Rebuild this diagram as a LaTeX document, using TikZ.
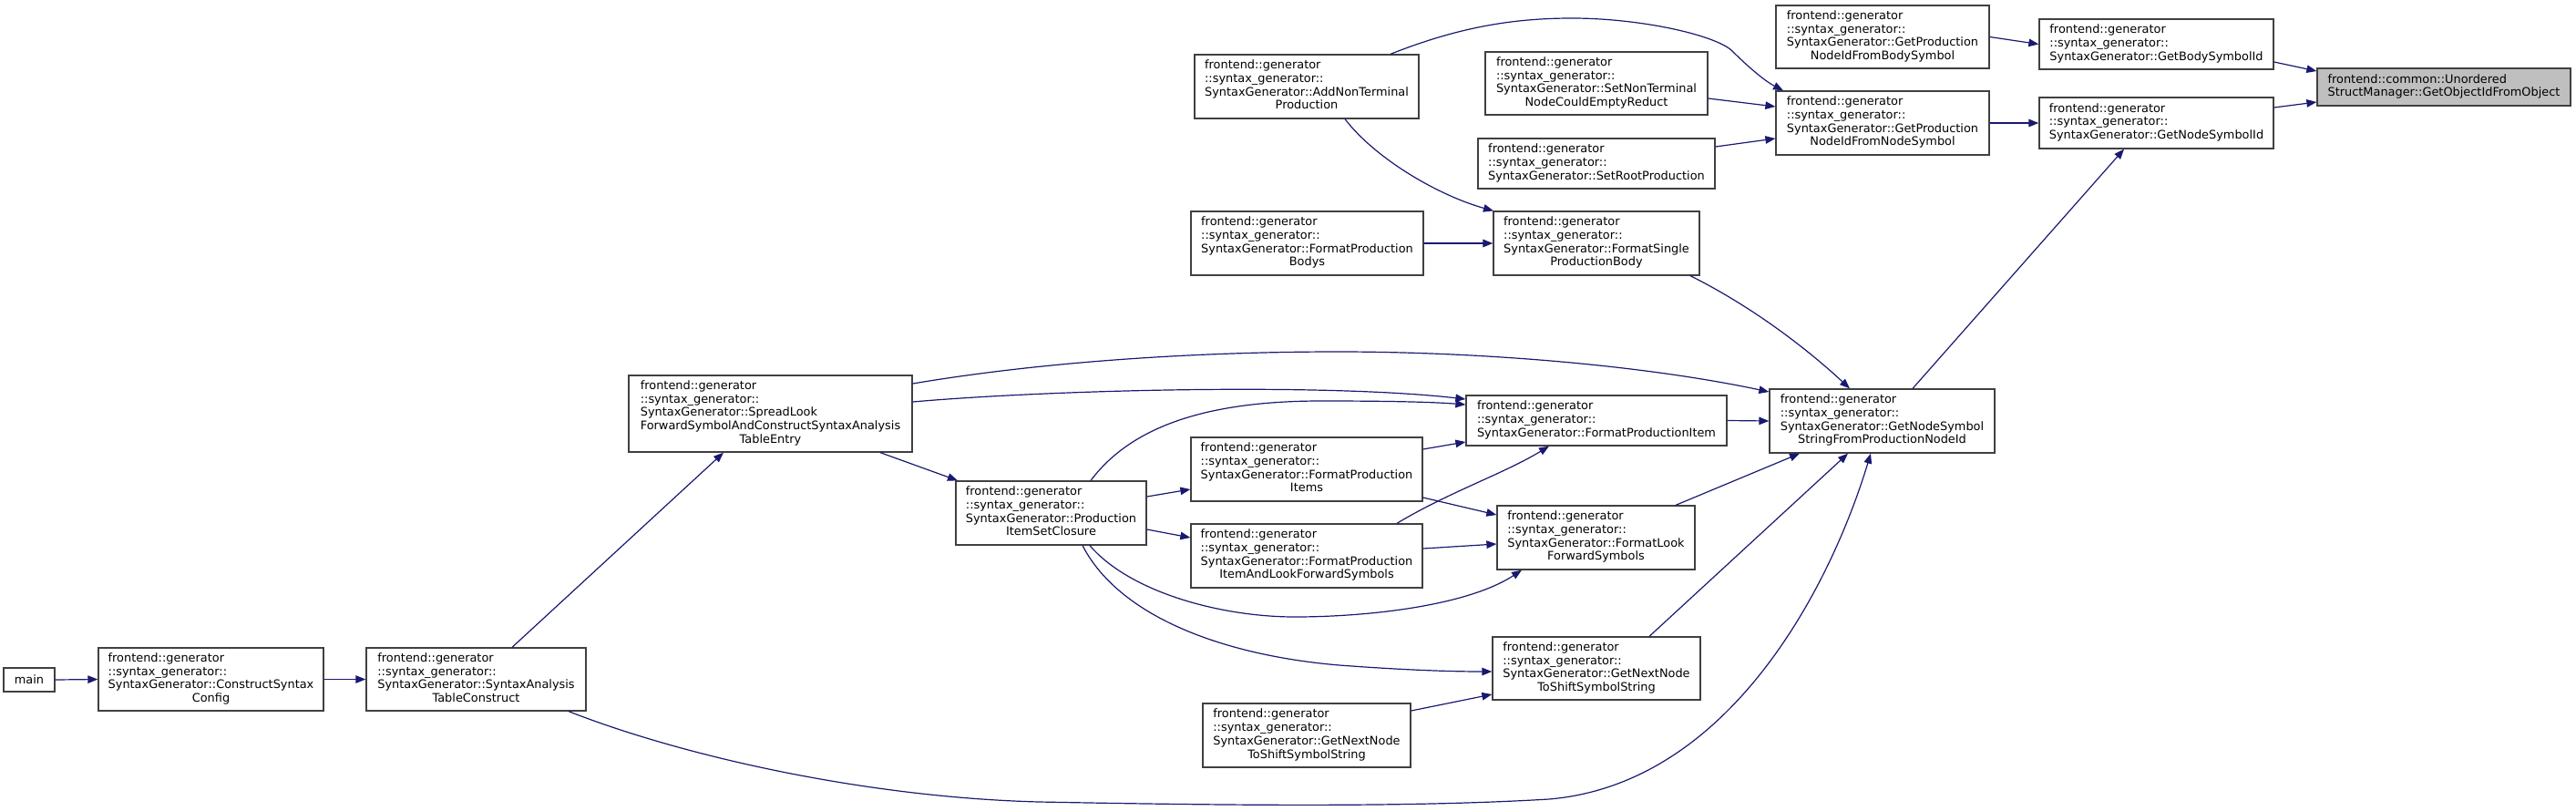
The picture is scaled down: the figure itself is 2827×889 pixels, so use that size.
\documentclass[tikz,border=0pt]{standalone}
\usepackage{fontspec}
\setmainfont{DejaVu Sans}
\usetikzlibrary{arrows.meta}
\definecolor{edgecol}{HTML}{191970}
\definecolor{boxcol}{HTML}{404040}
\definecolor{grayfill}{HTML}{BFBFBF}
\newcommand{\dlab}[2]{\begin{tabular}{@{}l@{}}#1\\\multicolumn{1}{@{}c@{}}{#2}\end{tabular}}
\newcommand{\pfx}{frontend::generator\\::syntax\_generator::}
\tikzset{
  fn/.style={draw=boxcol, line width=1.3pt, fill=white, inner sep=0pt, align=center,
    font=\fontsize{12.9}{14.7}\selectfont},
  edge/.style={draw=edgecol, line width=1.2pt, -{Triangle[length=11pt,width=8.5pt]}}
}
\begin{document}
\begin{tikzpicture}[x=1pt,y=-1pt]
\useasboundingbox (0,0) rectangle (2827,889);
% nodes
\node[fn, minimum width=56, minimum height=26] (main) at (32,746) {main};
\node[fn, minimum width=247, minimum height=69] (csc) at (231.5,745.5) {\dlab{\pfx\\SyntaxGenerator::ConstructSyntax}{Config}};
\node[fn, minimum width=241, minimum height=69] (satc) at (522.5,745.5) {\dlab{\pfx\\SyntaxGenerator::SyntaxAnalysis}{TableConstruct}};
\node[fn, minimum width=311, minimum height=84] (spread) at (845.5,454) {\dlab{\pfx\\SyntaxGenerator::SpreadLook\\ForwardSymbolAndConstructSyntaxAnalysis}{TableEntry}};
\node[fn, minimum width=209, minimum height=70] (pisc) at (1153.5,563) {\dlab{\pfx\\SyntaxGenerator::Production}{ItemSetClosure}};
\node[fn, minimum width=254, minimum height=70] (fpis) at (1434,515) {\dlab{\pfx\\SyntaxGenerator::FormatProduction}{Items}};
\node[fn, minimum width=254, minimum height=70] (fpialfs) at (1434,610) {\dlab{\pfx\\SyntaxGenerator::FormatProduction}{ItemAndLookForwardSymbols}};
\node[fn, minimum width=286, minimum height=55] (fpi) at (1752,461.5) {\dlab{\pfx}{SyntaxGenerator::FormatProductionItem}};
\node[fn, minimum width=217, minimum height=70] (flfs) at (1751.5,590) {\dlab{\pfx\\SyntaxGenerator::FormatLook}{ForwardSymbols}};
\node[fn, minimum width=247, minimum height=70] (gnss) at (2065.5,462) {\dlab{\pfx\\SyntaxGenerator::GetNodeSymbol}{StringFromProductionNodeId}};
\node[fn, minimum width=228, minimum height=69] (gnn1) at (1752,733.5) {\dlab{\pfx\\SyntaxGenerator::GetNextNode}{ToShiftSymbolString}};
\node[fn, minimum width=228, minimum height=70] (gnn2) at (1434,807) {\dlab{\pfx\\SyntaxGenerator::GetNextNode}{ToShiftSymbolString}};
\node[fn, minimum width=255, minimum height=70] (fpb) at (1434.5,267) {\dlab{\pfx\\SyntaxGenerator::FormatProduction}{Bodys}};
\node[fn, minimum width=226, minimum height=70] (fspb) at (1752,267) {\dlab{\pfx\\SyntaxGenerator::FormatSingle}{ProductionBody}};
\node[fn, minimum width=246, minimum height=70] (antp) at (1434,95) {\dlab{\pfx\\SyntaxGenerator::AddNonTerminal}{Production}};
\node[fn, minimum width=244, minimum height=69] (snt) at (1752,91.5) {\dlab{\pfx\\SyntaxGenerator::SetNonTerminal}{NodeCouldEmptyReduct}};
\node[fn, minimum width=260, minimum height=55] (srp) at (1752,179.5) {\dlab{\pfx}{SyntaxGenerator::SetRootProduction}};
\node[fn, minimum width=234, minimum height=70] (gpnns) at (2066,135) {\dlab{\pfx\\SyntaxGenerator::GetProduction}{NodeIdFromNodeSymbol}};
\node[fn, minimum width=234, minimum height=69] (gpnbs) at (2066,40.5) {\dlab{\pfx\\SyntaxGenerator::GetProduction}{NodeIdFromBodySymbol}};
\node[fn, minimum width=257, minimum height=55] (gbsi) at (2366.5,48.5) {\dlab{\pfx}{SyntaxGenerator::GetBodySymbolId}};
\node[fn, minimum width=257, minimum height=56] (gnsi) at (2366.5,135) {\dlab{\pfx}{SyntaxGenerator::GetNodeSymbolId}};
\node[fn, fill=grayfill, minimum width=278, minimum height=41] (uso) at (2682,95.5) {\dlab{frontend::common::Unordered}{StructManager::GetObjectIdFromObject}};
% edges
\draw[edge] (main.east) -- (csc.west);
\draw[edge] (csc.east) -- (satc.west);
\draw[edge] ([xshift=39.5]satc.north) -- ([xshift=-51.5]spread.south);
\draw[edge] ([xshift=101.5]satc.south) .. controls (750,830) and (950,875) .. (1140,880)
  .. controls (1350,884) and (1550,886) .. (1700,877)
  .. controls (1900,860) and (2010,640) .. ([xshift=-12.5]gnss.south);
\draw[edge] ([xshift=120.5]spread.south) -- ([xshift=-102.5]pisc.north);
\draw[edge] ([yshift=13]spread.east) .. controls (1150,428) and (1450,420) .. ([yshift=23.5]fpi.west);
\draw[edge] ([yshift=33]spread.east) .. controls (1150,396) and (1320,386) .. (1468,386)
  .. controls (1620,386) and (1800,400) .. ([yshift=32]gnss.west);
\draw[edge] ([xshift=43.5]pisc.north) .. controls (1240,470) and (1320,440) .. (1450,440)
  .. controls (1520,440) and (1570,441) .. ([yshift=17.5]fpi.west);
\draw[edge] ([yshift=18]pisc.east) -- ([yshift=-22]fpis.west);
\draw[edge] ([yshift=-18]pisc.east) -- ([yshift=20]fpialfs.west);
\draw[edge] ([xshift=42.5]pisc.south) .. controls (1240,650) and (1340,677) .. (1421,677)
  .. controls (1500,677) and (1610,665) .. ([xshift=-81.5]flfs.south);
\draw[edge] ([xshift=34.5]pisc.south) .. controls (1230,680) and (1350,720) .. (1470,730)
  .. controls (1550,736) and (1600,737) .. ([yshift=-3.5]gnn1.west);
\draw[edge] ([yshift=22]fpis.east) -- ([yshift=-23.5]fpi.west);
\draw[edge] ([yshift=-31]fpis.east) -- ([yshift=25]flfs.west);
\draw[edge] ([xshift=99]fpialfs.north) .. controls (1590,540) and (1650,520) .. ([xshift=-52]fpi.south);
\draw[edge] ([yshift=8]fpialfs.east) -- ([yshift=-7]flfs.west);
\draw[edge] (fpi.east) -- (gnss.west);
\draw[edge] ([xshift=87.5]flfs.north) -- ([xshift=-90.5]gnss.south);
\draw[edge] ([xshift=58]gnn1.north) -- ([xshift=-37.5]gnss.south);
\draw[edge] ([yshift=27]gnn2.east) -- ([yshift=-28.5]gnn1.west);
\draw[edge] ([xshift=103]fspb.south) .. controls (1920,335) and (1980,380) .. ([xshift=-35.5]gnss.north);
\draw[edge] (fpb.east) -- (fspb.west);
\draw[edge] ([xshift=42]antp.south) .. controls (1510,175) and (1580,215) .. ([xshift=-113]fspb.north);
\draw[edge] ([xshift=92]antp.north) .. controls (1600,30) and (1660,20) .. (1725,20)
  .. controls (1800,20) and (1880,38) .. (1900,55)
  .. controls (1915,70) and (1935,88) .. ([xshift=-109]gpnns.north);
\draw[edge] ([yshift=-16.5]snt.east) -- ([yshift=18]gpnns.west);
\draw[edge] ([yshift=18.5]srp.east) -- ([yshift=-17]gpnns.west);
\draw[edge] (gpnbs.east) -- (gbsi.west);
\draw[edge] (gpnns.east) -- (gnsi.west);
\draw[edge] ([yshift=-19.5]gbsi.east) -- ([yshift=17.5]uso.west);
\draw[edge] ([yshift=17]gnsi.east) -- ([yshift=-16.5]uso.west);
\draw[edge] ([xshift=33.5]gnss.north) -- ([xshift=-35.5]gnsi.south);
\end{tikzpicture}
\end{document}
